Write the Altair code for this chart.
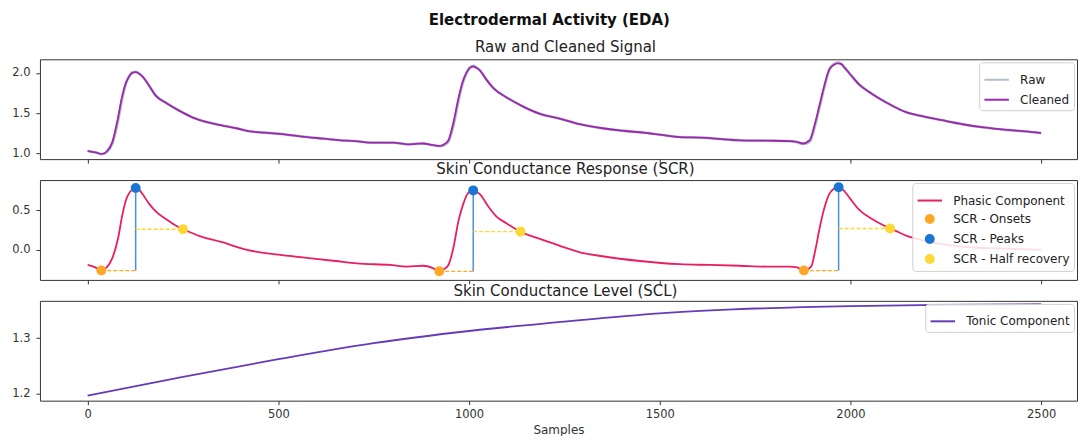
import altair as alt
import pandas as pd

FONT = "DejaVu Sans"

# ---------------- Panel 1: raw & cleaned ----------------
sig_x = [0, 20, 38, 50, 65, 78, 91, 100, 108, 117, 126, 135, 143, 160, 178, 208, 240, 278, 310, 348,
         390, 427, 465, 505, 575, 620, 662, 700, 750, 802, 837, 860, 880, 905, 924, 935, 946, 960, 972, 984,
         994, 1002, 1011, 1020, 1029, 1045, 1064, 1100, 1142, 1186, 1238, 1291, 1350, 1400, 1448, 1500, 1552, 1622, 1660, 1709,
         1780, 1840, 1860, 1875, 1893, 1906, 1919, 1932, 1945, 1956, 1967, 1976, 1984, 2000, 2024, 2050, 2076, 2110, 2146, 2189,
         2240, 2294, 2350, 2408, 2460, 2500]
cleaned = [1.025, 1.01, 0.99, 1.02, 1.14, 1.40, 1.72, 1.87, 1.95, 2.00, 2.01, 1.99, 1.96, 1.85, 1.72, 1.62, 1.53, 1.44, 1.39, 1.35,
           1.31, 1.27, 1.255, 1.24, 1.20, 1.18, 1.16, 1.15, 1.13, 1.13, 1.11, 1.115, 1.12, 1.10, 1.09, 1.11, 1.16, 1.40, 1.68, 1.90,
           2.01, 2.06, 2.08, 2.06, 2.03, 1.92, 1.81, 1.69, 1.58, 1.49, 1.43, 1.36, 1.31, 1.28, 1.26, 1.23, 1.20, 1.19, 1.175, 1.16,
           1.155, 1.15, 1.14, 1.12, 1.16, 1.35, 1.60, 1.85, 2.05, 2.10, 2.12, 2.11, 2.07, 1.98, 1.85, 1.76, 1.68, 1.59, 1.51, 1.46,
           1.41, 1.36, 1.32, 1.29, 1.27, 1.25]
raw = [1.03, 1.01, 0.985, 1.01, 1.12, 1.36, 1.68, 1.86, 1.95, 2.005, 2.015, 1.995, 1.96, 1.85, 1.72, 1.62, 1.53, 1.44, 1.39, 1.35,
       1.31, 1.27, 1.255, 1.24, 1.20, 1.18, 1.16, 1.15, 1.13, 1.13, 1.11, 1.115, 1.12, 1.10, 1.085, 1.10, 1.14, 1.36, 1.64, 1.88,
       2.00, 2.07, 2.09, 2.07, 2.03, 1.92, 1.81, 1.69, 1.58, 1.49, 1.43, 1.36, 1.31, 1.28, 1.26, 1.23, 1.20, 1.19, 1.175, 1.16,
       1.155, 1.15, 1.135, 1.115, 1.14, 1.32, 1.57, 1.83, 2.04, 2.11, 2.13, 2.115, 2.07, 1.98, 1.85, 1.76, 1.68, 1.59, 1.51, 1.46,
       1.41, 1.36, 1.32, 1.29, 1.27, 1.25]

# ---------------- Panel 2: phasic / SCR ----------------
phasic_x = [0, 20, 36, 50, 65, 80, 91, 100, 108, 117, 126, 135, 143, 160, 178, 208, 230, 250, 275, 296,
            350, 418, 500, 575, 650, 706, 793, 837, 880, 905, 922, 935, 946, 960, 972, 985, 994, 1003, 1011, 1020,
            1029, 1050, 1072, 1100, 1135, 1160, 1186, 1238, 1291, 1350, 1448, 1552, 1630, 1709, 1780, 1840, 1860, 1878, 1897, 1908,
            1919, 1930, 1945, 1957, 1969, 1984, 2000, 2024, 2060, 2104, 2128, 2146, 2181, 2259, 2320, 2390, 2500]
phasic = [-0.19, -0.22, -0.26, -0.22, -0.10, 0.15, 0.44, 0.62, 0.71, 0.76, 0.78, 0.76, 0.71, 0.59, 0.49, 0.38, 0.31, 0.26, 0.21, 0.17,
          0.10, 0.0, -0.06, -0.10, -0.14, -0.17, -0.19, -0.21, -0.20, -0.23, -0.27, -0.24, -0.19, 0.05, 0.36, 0.58, 0.69, 0.74, 0.75, 0.73,
          0.70, 0.55, 0.42, 0.33, 0.23, 0.18, 0.14, 0.05, -0.03, -0.08, -0.14, -0.18, -0.19, -0.20, -0.21, -0.21, -0.22, -0.26, -0.21, 0.0,
          0.27, 0.50, 0.71, 0.77, 0.79, 0.74, 0.64, 0.50, 0.38, 0.27, 0.22, 0.18, 0.13, 0.06, 0.03, 0.02, 0.0]

onset_x = [36, 922, 1878]
onset_y = [-0.26, -0.27, -0.26]
peak_x = [126, 1011, 1969]
peak_y = [0.78, 0.75, 0.79]
half_x = [250, 1135, 2104]
half_y = [0.26, 0.23, 0.27]

# ---------------- Panel 3: tonic ----------------
tonic_x = [0, 250, 500, 750, 1000, 1250, 1343, 1500, 1692, 2000, 2216, 2500]
tonic = [1.196, 1.230, 1.262, 1.291, 1.313, 1.330, 1.336, 1.345, 1.352, 1.358, 1.360, 1.3616]

x_ticks = [0, 500, 1000, 1500, 2000, 2500]

W, H = 1039, 100
XDOM = [-125, 2594]

def xenc(field, show_labels):
    return alt.X(field, type="quantitative",
                 scale=alt.Scale(domain=XDOM, nice=False, zero=False),
                 axis=alt.Axis(values=x_ticks, labels=show_labels, title="Samples" if show_labels else None,
                               format="d", grid=False, domain=False, tickSize=4, tickColor="#333",
                               labelPadding=4, labelFontSize=11.5, labelColor="#333", labelFont=FONT,
                               titleFont=FONT, titleFontSize=12, titleFontWeight="normal", titleColor="#333",
                               titlePadding=4))

def yaxis(vals):
    return alt.Axis(values=vals, format=".1f", grid=False, domain=False, tickSize=4, tickColor="#333",
                    labelPadding=6, labelFontSize=11.5, labelColor="#333", labelFont=FONT, title=None)

def ptitle(text):
    return alt.TitleParams(text, font=FONT, fontSize=15, fontWeight="normal", color="#222",
                           anchor="middle", offset=-10, baseline="alphabetic", dx=7)

def legend(**kw):
    base = dict(orient="top-right", title=None, fillColor="rgba(255,255,255,0.85)", strokeColor="#d0d0d0",
                cornerRadius=3, padding=4, labelFont=FONT, labelFontSize=12, labelColor="#222",
                offset=3, labelOffset=10)
    base.update(kw)
    return alt.Legend(**base)

# Panel 1
df_raw = pd.DataFrame({"x": sig_x, "y": raw, "series": "Raw"})
df_clean = pd.DataFrame({"x": sig_x, "y": cleaned, "series": "Cleaned"})
sig_names = ["Raw", "Cleaned"]
sig_colors = ["#B0BEC5", "#9C27B0"]
ycol1 = alt.Y("y:Q", scale=alt.Scale(domain=[0.925, 2.17], nice=False, zero=False), axis=yaxis([1.0, 1.5, 2.0]))
col1 = alt.Color("series:N", scale=alt.Scale(domain=sig_names, range=sig_colors),
                 legend=legend(symbolSize=600, symbolStrokeWidth=2, rowPadding=0))
p1 = alt.layer(
    alt.Chart(df_raw).mark_line(strokeWidth=2.6, interpolate="monotone").encode(x=xenc("x", False), y=ycol1, color=col1),
    alt.Chart(df_clean).mark_line(strokeWidth=1.8, interpolate="monotone").encode(x=xenc("x", False), y=ycol1, color=col1),
).properties(width=W, height=H, title=ptitle("Raw and Cleaned Signal"))

# Panel 2
scr_names = ["Phasic Component", "SCR - Onsets", "SCR - Peaks", "SCR - Half recovery"]
scr_colors = ["#E91E63", "#FFA726", "#1976D2", "#FDD835"]
scr_shapes = ["stroke", "circle", "circle", "circle"]
scr_sizes = [600, 64, 64, 64]
ydom2 = alt.Scale(domain=[-0.378, 0.88], nice=False, zero=False)
ycol2 = alt.Y("y:Q", scale=ydom2, axis=yaxis([0.0, 0.5]))
df_ph = pd.DataFrame({"x": phasic_x, "y": phasic})
df_pts = pd.DataFrame({
    "x": onset_x + peak_x + half_x,
    "y": onset_y + peak_y + half_y,
    "series": ["SCR - Onsets"] * 3 + ["SCR - Peaks"] * 3 + ["SCR - Half recovery"] * 3,
})
df_vr = pd.DataFrame({"x": peak_x, "y": onset_y, "y2": peak_y})
df_on = pd.DataFrame({"x": onset_x, "x2": peak_x, "y": onset_y})
df_hr = pd.DataFrame({"x": peak_x, "x2": half_x, "y": half_y})

leg2 = legend(symbolStrokeWidth=2, rowPadding=4)
p2 = alt.layer(
    alt.Chart(df_ph).mark_line(strokeWidth=1.8, color="#E91E63", interpolate="monotone").encode(x=xenc("x", False), y=ycol2),
    alt.Chart(df_vr).mark_rule(color="#4A90E2", strokeWidth=1.5).encode(x=xenc("x", False), y=alt.Y("y:Q", scale=ydom2), y2="y2:Q"),
    alt.Chart(df_on).mark_rule(color="#FFA726", strokeWidth=1.3, strokeDash=[4, 2]).encode(x=xenc("x", False), x2="x2:Q", y=alt.Y("y:Q", scale=ydom2)),
    alt.Chart(df_hr).mark_rule(color="#FDD835", strokeWidth=1.3, strokeDash=[4, 2]).encode(x=xenc("x", False), x2="x2:Q", y=alt.Y("y:Q", scale=ydom2)),
    alt.Chart(df_pts).mark_point(filled=True, opacity=1).encode(
        x=xenc("x", False), y=ycol2,
        fill=alt.Fill("series:N", scale=alt.Scale(domain=scr_names, range=scr_colors), legend=leg2),
        stroke=alt.Stroke("series:N", scale=alt.Scale(domain=scr_names, range=scr_colors), legend=leg2),
        shape=alt.Shape("series:N", scale=alt.Scale(domain=scr_names, range=scr_shapes), legend=leg2),
        size=alt.Size("series:N", scale=alt.Scale(type="ordinal", domain=scr_names, range=scr_sizes), legend=leg2),
    ),
).properties(width=W, height=H, title=ptitle("Skin Conductance Response (SCR)"))

# Panel 3
df_t = pd.DataFrame({"x": tonic_x, "y": tonic, "series": "Tonic Component"})
p3 = alt.Chart(df_t).mark_line(strokeWidth=1.8, interpolate="monotone").encode(
    x=xenc("x", True),
    y=alt.Y("y:Q", scale=alt.Scale(domain=[1.187, 1.3675], nice=False, zero=False), axis=yaxis([1.2, 1.3])),
    color=alt.Color("series:N", scale=alt.Scale(domain=["Tonic Component"], range=["#673AB7"]),
                    legend=legend(symbolSize=600, symbolStrokeWidth=2)),
).properties(width=W, height=H, title=ptitle("Skin Conductance Level (SCL)"))

chart = alt.vconcat(p1, p2, p3, spacing=21, bounds="flush").resolve_scale(
    y="independent", color="independent", fill="independent", stroke="independent",
    shape="independent", size="independent"
).resolve_legend(color="independent", fill="independent", stroke="independent",
                 shape="independent", size="independent").properties(
    title=alt.TitleParams("Electrodermal Activity (EDA)", font=FONT, fontSize=15, fontWeight="bold",
                          color="#111", anchor="middle", offset=12, dx=5),
    padding={"left": 3, "top": 4, "right": 0, "bottom": 0},
).configure_view(stroke="#333", strokeWidth=1)

chart.save("out.html", embed_options={"renderer": "svg", "actions": False})
